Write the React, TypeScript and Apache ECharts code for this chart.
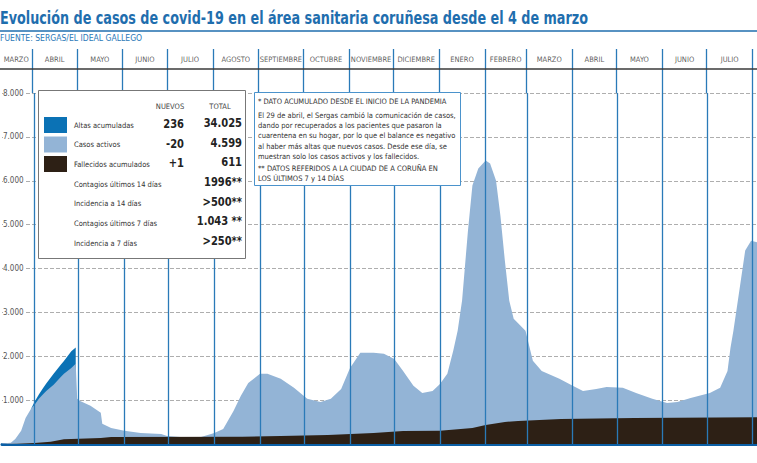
import React, { useEffect, useRef } from "react";
import * as echarts from "echarts";

// ---------- DATA ----------
const periodStarts = [
  "2020-03-01", "2020-04-01", "2020-05-01", "2020-06-01", "2020-07-01", "2020-08-01",
  "2020-09-01", "2020-10-01", "2020-11-01", "2020-12-01", "2021-01-01", "2021-02-01",
  "2021-03-01", "2021-04-01", "2021-05-01", "2021-06-01", "2021-07-01", "2021-08-01",
];
const monthLabels = [
  "MARZO", "ABRIL", "MAYO", "JUNIO", "JULIO", "AGOSTO", "SEPTIEMBRE", "OCTUBRE",
  "NOVIEMBRE", "DICIEMBRE", "ENERO", "FEBRERO", "MARZO", "ABRIL", "MAYO", "JUNIO", "JULIO",
];
const yTicks = [1000, 2000, 3000, 4000, 5000, 6000, 7000, 8000];

const activeDates = [
  "2020-03-10", "2020-03-16", "2020-03-19", "2020-03-23", "2020-03-26", "2020-03-30",
  "2020-04-01", "2020-04-04", "2020-04-07", "2020-04-09", "2020-04-14", "2020-04-19",
  "2020-04-21", "2020-04-26", "2020-04-29", "2020-04-30", "2020-05-02", "2020-05-09",
  "2020-05-16", "2020-05-17", "2020-05-23", "2020-06-01", "2020-06-12", "2020-06-26",
  "2020-06-30", "2020-07-09", "2020-07-23", "2020-08-01", "2020-08-07", "2020-08-14",
  "2020-08-19", "2020-08-24", "2020-09-01", "2020-09-06", "2020-09-15", "2020-09-24",
  "2020-10-03", "2020-10-12", "2020-10-19", "2020-10-26", "2020-11-01", "2020-11-08",
  "2020-11-17", "2020-11-24", "2020-12-01", "2020-12-07", "2020-12-14", "2020-12-20",
  "2020-12-27", "2021-01-01", "2021-01-06", "2021-01-10", "2021-01-13", "2021-01-16",
  "2021-01-20", "2021-01-23", "2021-01-27", "2021-02-01", "2021-02-04", "2021-02-08",
  "2021-02-11", "2021-02-14", "2021-02-17", "2021-02-20", "2021-02-28", "2021-03-05",
  "2021-03-11", "2021-03-23", "2021-04-01", "2021-04-08", "2021-04-17", "2021-04-24",
  "2021-05-05", "2021-05-14", "2021-05-25", "2021-06-04", "2021-06-11", "2021-06-20",
  "2021-07-03", "2021-07-10", "2021-07-15", "2021-07-17", "2021-07-19", "2021-07-24",
  "2021-07-27", "2021-07-31", "2021-08-04",
];
const activeCases = [
  10, 30, 115, 300, 595, 820,
  890, 1030, 1140, 1210, 1350, 1530,
  1600, 1735, 1830, 1030, 980, 870,
  710, 460, 365, 300, 250, 230,
  185, 160, 160, 250, 340, 750,
  1100, 1390, 1600, 1600, 1485, 1280,
  1030, 960, 1030, 1255, 1735, 2080,
  2080, 2055, 1940, 1665, 1325, 1165,
  1210, 1370, 1600, 2125, 2580, 3270,
  4865, 5890, 6280, 6460, 6395, 6005,
  5205, 4180, 3265, 2855, 2580, 1895,
  1665, 1485, 1325, 1210, 1255, 1300,
  1280, 1165, 1030, 935, 960, 1050,
  1165, 1280, 1665, 2190, 2580, 3720,
  4410, 4635, 4599,
];

// Altas acumuladas (shown only until 29 April 2020), drawn on top of active cases
const altasDates = [
  "2020-03-30", "2020-04-01", "2020-04-04", "2020-04-07", "2020-04-09",
  "2020-04-14", "2020-04-19", "2020-04-21", "2020-04-26", "2020-04-29",
];
const altasValues = [0, 70, 100, 140, 170, 250, 280, 290, 380, 370];

const deathsDates = [
  "2020-03-10", "2020-03-20", "2020-04-01", "2020-04-12", "2020-04-21", "2020-05-16",
  "2020-05-23", "2020-08-20", "2020-09-15", "2020-10-17", "2020-11-17", "2020-12-07",
  "2021-01-01", "2021-01-23", "2021-02-01", "2021-02-14", "2021-02-23", "2021-03-24",
  "2021-05-13", "2021-08-04",
];
const deathsValues = [
  0, 5, 25, 50, 110, 137,
  160, 165, 183, 205, 250, 297,
  300, 365, 434, 502, 525, 571,
  594, 611,
];

const legendRows = [
  { label: "Altas acumuladas", nuevos: "236", total: "34.025", color: "#0b72b5" },
  { label: "Casos activos", nuevos: "-20", total: "4.599", color: "#93b4d6" },
  { label: "Fallecidos acumulados", nuevos: "+1", total: "611", color: "#2d2015" },
  { label: "Contagios últimos 14 días", nuevos: "", total: "1996**", color: "" },
  { label: "Incidencia a 14 días", nuevos: "", total: ">500**", color: "" },
  { label: "Contagios últimos 7 días", nuevos: "", total: "1.043 **", color: "" },
  { label: "Incidencia a 7 días", nuevos: "", total: ">250**", color: "" },
];

const noteLines = [
  "* DATO ACUMULADO DESDE EL INICIO DE LA PANDEMIA",
  "El 29 de abril, el Sergas cambió la comunicación de casos,",
  "dando por recuperados a los pacientes que pasaron la",
  "cuarentena en su hogar, por lo que el balance es negativo",
  "al haber más altas que nuevos casos. Desde ese día, se",
  "muestran solo los casos activos y los fallecidos.",
  "** DATOS REFERIDOS A LA CIUDAD DE A CORUÑA EN",
  "LOS ÚLTIMOS 7 y 14 DÍAS",
];

const TITLE = "Evolución de casos de covid-19 en el área sanitaria coruñesa desde el 4 de marzo";
const SOURCE = "FUENTE: SERGAS/EL IDEAL GALLEGO";
const X_MIN = "2020-03-10";
const X_MAX = "2021-08-04";

// ---------- STYLE ----------
const NARROW = "'DejaVu Sans Condensed','DejaVu Sans',sans-serif";
const BLUE = "#1f6eae";
const LINE_BLUE = "#2a7ab8";

function toTime(s: string): number {
  const [y, m, d] = s.split("-").map(Number);
  return new Date(y, m - 1, d).getTime();
}

export default function App() {
  const ref = useRef<HTMLDivElement>(null);

  useEffect(() => {
    document.body.style.margin = "0";
    if (!ref.current) return;
    const chart = echarts.init(ref.current, undefined, { renderer: "svg" });

    const xMin = toTime(X_MIN);
    const active = activeDates.map((d, i) => [toTime(d), activeCases[i]]);
    const combined = altasDates.map((d, i) => {
      const idx = activeDates.indexOf(d);
      return [toTime(d), activeCases[idx] + altasValues[i]];
    });
    const deaths = deathsDates.map((d, i) => [toTime(d), deathsValues[i]]);
    const boundaries = periodStarts.slice(1).map((d) => ({ xAxis: toTime(d) }));
    const monthMarks = monthLabels.map((name, i) => ({
      name,
      value: [(Math.max(xMin, toTime(periodStarts[i])) + toTime(periodStarts[i + 1])) / 2, 0.77],
    }));

    const g: any[] = [];
    // Title and source
    g.push({
      type: "text", x: 0, y: 18, z: 100, scaleX: 0.835,
      style: { text: TITLE, fill: BLUE, font: `bold 17px ${NARROW}`, verticalAlign: "middle" },
    });
    g.push({
      type: "line", z: 100,
      shape: { x1: 0, y1: 31, x2: 757, y2: 31 },
      style: { stroke: BLUE, lineWidth: 1.5 },
    });
    g.push({
      type: "text", x: 0, y: 38, z: 100, scaleX: 0.95,
      style: { text: SOURCE, fill: "#2a78b8", font: `9px ${NARROW}`, verticalAlign: "middle" },
    });
    // header line under month names
    g.push({
      type: "line", z: 100,
      shape: { x1: 0, y1: 69, x2: 757, y2: 69 },
      style: { stroke: "#3a3a3a", lineWidth: 1.5 },
    });

    // Legend box
    g.push({
      type: "rect", z: 100,
      shape: { x: 38.5, y: 90.5, width: 207, height: 168 },
      style: { fill: "#fff", stroke: "#777", lineWidth: 1 },
    });
    g.push({
      type: "text", x: 170, y: 106, z: 101,
      style: { text: "NUEVOS", fill: "#444", font: `7.5px ${NARROW}`, align: "center", verticalAlign: "middle" },
    });
    g.push({
      type: "text", x: 220, y: 106, z: 101,
      style: { text: "TOTAL", fill: "#444", font: `7.5px ${NARROW}`, align: "center", verticalAlign: "middle" },
    });
    const rowY = [125, 144.5, 164, 184, 203.5, 223, 243];
    legendRows.forEach((r, i) => {
      const y = rowY[i];
      if (r.color) {
        g.push({
          type: "rect", z: 101,
          shape: { x: 44, y: y - 8, width: 23, height: 16 },
          style: { fill: r.color },
        });
      }
      g.push({
        type: "text", x: 74, y, z: 101,
        style: { text: r.label, fill: "#333", font: `7.5px ${NARROW}`, verticalAlign: "middle" },
      });
      if (r.nuevos) {
        g.push({
          type: "text", x: 184, y: y - 1, z: 101, scaleX: 0.85,
          style: { text: r.nuevos, fill: "#222", font: `bold 13px ${NARROW}`, align: "right", verticalAlign: "middle" },
        });
      }
      g.push({
        type: "text", x: 242, y: y - 2, z: 101, scaleX: 0.85,
        style: { text: r.total, fill: "#222", font: `bold 13px ${NARROW}`, align: "right", verticalAlign: "middle" },
      });
    });

    // Note box
    g.push({
      type: "rect", z: 100,
      shape: { x: 254.5, y: 92.5, width: 206, height: 93 },
      style: { fill: "#fff", stroke: "#4b93cc", lineWidth: 1 },
    });
    const noteY = [101, 115, 125.3, 135.6, 146, 156.3, 168, 178.5];
    noteLines.forEach((t, i) => {
      g.push({
        type: "text", x: 258, y: noteY[i], z: 101,
        style: { text: t, fill: "#333", font: `7.5px ${NARROW}`, verticalAlign: "middle" },
      });
    });

    const option: any = {
      animation: false,
      backgroundColor: "#fff",
      grid: [
        { left: 0, right: 0, top: 93, bottom: 19 },
        { left: 0, right: 0, top: 49, height: 44 },
      ],
      xAxis: [
        {
          type: "time", gridIndex: 0, min: xMin, max: toTime(X_MAX),
          axisLine: { show: true, lineStyle: { color: "#0b5fa5", width: 3 } },
          axisTick: { show: false }, axisLabel: { show: false }, splitLine: { show: false },
        },
        {
          type: "time", gridIndex: 1, min: xMin, max: toTime(X_MAX),
          axisLine: { show: false }, axisTick: { show: false }, axisLabel: { show: false },
          splitLine: { show: false },
        },
      ],
      yAxis: [
        {
          type: "value", gridIndex: 0, min: 0, max: yTicks[yTicks.length - 1], interval: 1000,
          axisLine: { show: false }, axisTick: { show: false },
          axisLabel: {
            inside: true, margin: 1, color: "#555", fontSize: 8, fontFamily: NARROW,
            backgroundColor: "#fff", padding: [0, 2, 0, 0],
            formatter: (v: number) => (v === 0 ? "" : `${v / 1000}.000`),
          },
          splitLine: { show: true, lineStyle: { color: "#999", type: [4, 2], width: 0.8 } },
        },
        {
          type: "value", gridIndex: 1, min: 0, max: 1,
          axisLine: { show: false }, axisTick: { show: false }, axisLabel: { show: false },
          splitLine: { show: false },
        },
      ],
      series: [
        {
          name: "Altas acumuladas", type: "line", xAxisIndex: 0, yAxisIndex: 0,
          data: combined, symbol: "none", lineStyle: { width: 0 },
          areaStyle: { color: "#0b72b5", opacity: 1 }, itemStyle: { color: "#0b72b5" },
        },
        {
          name: "Casos activos", type: "line", xAxisIndex: 0, yAxisIndex: 0,
          data: active, symbol: "none", lineStyle: { width: 0 },
          areaStyle: { color: "#93b4d6", opacity: 1 }, itemStyle: { color: "#93b4d6" },
        },
        {
          name: "Fallecidos acumulados", type: "line", xAxisIndex: 0, yAxisIndex: 0,
          data: deaths, symbol: "none", lineStyle: { width: 0 },
          areaStyle: { color: "#2d2015", opacity: 1 }, itemStyle: { color: "#2d2015" },
          markLine: {
            silent: true, symbol: ["none", "none"], label: { show: false },
            lineStyle: { color: LINE_BLUE, width: 1.3, type: "solid" },
            data: boundaries,
          },
        },
        {
          name: "Meses", type: "scatter", xAxisIndex: 1, yAxisIndex: 1,
          data: monthMarks, symbolSize: 1, itemStyle: { color: "rgba(0,0,0,0)" },
          label: {
            show: true, position: "inside", color: "#333", fontSize: 7.5, fontFamily: NARROW,
            formatter: (p: any) => p.name,
          },
          markLine: {
            silent: true, symbol: ["none", "none"], label: { show: false },
            lineStyle: { color: LINE_BLUE, width: 1.3, type: "solid" },
            data: boundaries,
          },
        },
      ],
      graphic: g,
    };

    chart.setOption(option);
    return () => chart.dispose();
  }, []);

  return <div ref={ref} style={{ width: 757, height: 463 }} />;
}
